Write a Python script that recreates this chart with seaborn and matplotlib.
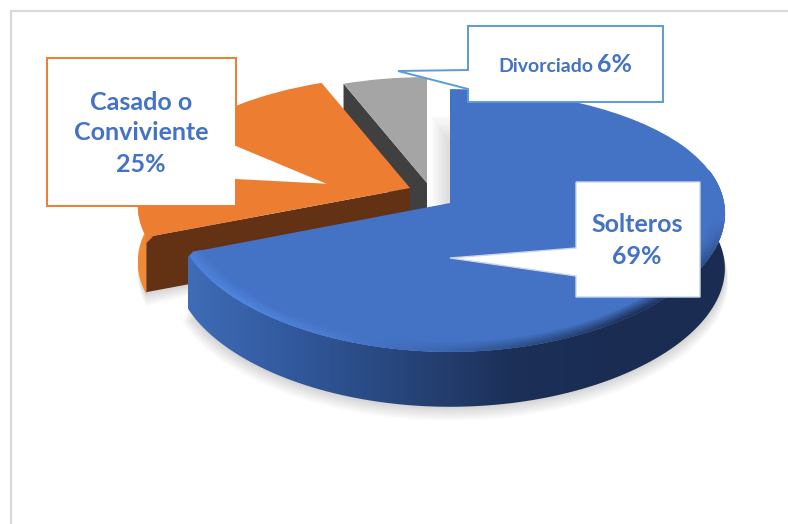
import numpy as np
import matplotlib
matplotlib.use('Agg')
import matplotlib.pyplot as plt
from matplotlib.collections import PolyCollection
from matplotlib.patches import Polygon
from matplotlib.transforms import Transform
import seaborn as sns

# data
categories = ['Solteros', 'Casado o\nConviviente', 'Divorciado']
shares = [69, 25, 6]
slice_colors = ['#4472c4', '#ed7d31', '#a5a5a5']
text_color = '#4472c4'

# where each slice was pulled to, in pixels, how large it looks, how much x narrows with distance
apexes = [(450, 203), (410, 188), (427, 183)]
radii = [1.0, 0.985, 0.93]
x_tilts = [0.08, 0.133, 0.133]
DEPTH = 55
RX, RY, P = 274, 129, 0.133


def project(u, v, apex, r=1.0, px=P):
    return apex[0] + RX * r * u / (1 + px * v), apex[1] - RY * r * v / (1 + P * v)


class Tilt(Transform):
    input_dims = 2
    output_dims = 2

    def __init__(self, apex, r, px):
        super().__init__()
        self.apex = apex
        self.r = r
        self.px = px

    def transform_non_affine(self, values):
        x, y = project(values[:, 0], values[:, 1], self.apex, self.r, self.px)
        return np.column_stack([x, y])


def rim(t1, t2, apex, r=1.0, n=120, px=P):
    t = np.radians(np.linspace(t1, t2, n))
    return project(r * np.cos(t), r * np.sin(t), apex, 1.0, px)


def wall(ax, x, y, colors, zorder, depth=DEPTH):
    # horizontal gradient clipped to the band below the rim
    grad = np.array(colors)[None, :, :]
    im = ax.imshow(grad, extent=(x.min(), x.max(), y.max() + depth, y.min()), aspect='auto', zorder=zorder,
                   interpolation='bilinear')
    pts = np.r_[np.c_[x, y], np.c_[x, y + depth][::-1]]
    im.set_clip_path(Polygon(pts, transform=ax.transData))


def shadow(ax, x, y, apex, zorder=0):
    cx = x.mean()
    for k in range(1, 15):
        ax.fill(np.r_[cx + (x - cx) * (1 + k * 0.0012), apex[0]], np.r_[y + DEPTH + k, apex[1] + DEPTH],
                color='#808080', alpha=0.025, lw=0, zorder=zorder)


def bevel(ax, t1, t2, apex, edge_colors, top, zorder, px):
    rs = np.linspace(0.945, 1.0, 7)
    top = np.array(matplotlib.colors.to_rgb(top))
    n = len(edge_colors)
    for j in range(len(rs) - 1):
        x0, y0 = rim(t1, t2, apex, rs[j], n + 1, px)
        x1, y1 = rim(t1, t2, apex, rs[j + 1], n + 1, px)
        f = (j + 1) / (len(rs) - 1)
        quads = [[(x0[i], y0[i]), (x0[i + 1], y0[i + 1]), (x1[i + 1], y1[i + 1]), (x1[i], y1[i])] for i in range(n)]
        cols = [tuple(top + (np.array(c) - top) * f) for c in edge_colors]
        ax.add_collection(PolyCollection(quads, facecolors=cols, edgecolors='face', linewidths=0.3, zorder=zorder))


def callout(ax, pts, edge, lw=1.4):
    ax.fill(*zip(*pts), facecolor='white', edgecolor=edge, lw=lw, zorder=10, joinstyle='miter')


sns.set_theme(style='white')
plt.rcParams['font.family'] = ['Lato', 'DejaVu Sans']

fig = plt.figure(figsize=(7.88, 5.24), dpi=100)
ax = fig.add_axes([0, 0, 1, 1])

wedges, _ = ax.pie(shares, colors=slice_colors, startangle=90, counterclock=False)
for w, apex, r, px, z in zip(wedges, apexes, radii, x_tilts, [6, 4, 2]):
    w.set_transform(Tilt(apex, r, px) + ax.transData)
    w.set_zorder(z)
    w.set_linewidth(0)

blue, orange, gray = wedges

# blue and orange rims, used for the walls and the floor shadow
bx, by = rim(blue.theta1, blue.theta2 - 75, apexes[0], px=x_tilts[0])
ox, oy = rim(orange.theta2 - 40, orange.theta2, apexes[1], radii[1])

shadow(ax, bx, by, apexes[0])
shadow(ax, ox, oy, apexes[1])

# soft grey in the gap between the grey and blue slices, nested so it darkens to the right and down
gap_shades = sns.blend_palette(['#fbfbfb', '#f0f0f0', '#e6e6e6', '#dedede'], 12)
for k, shade in enumerate(gap_shades):
    left = 432 + k * 1.4
    top = 116 + k * 2.2
    ax.fill([left, 450, 450, left], [top, top, 204, 204], color=shade, lw=0, zorder=1)
ax.plot([450, 450], [125, 203], color='#2a4a80', lw=0.7, zorder=5)

# grey slice: dark cut face
t = np.radians(gray.theta2)
gx, gy = project(np.cos(t), np.sin(t), apexes[2], radii[2])
ax.fill([apexes[2][0], gx, gx, apexes[2][0]],
        [apexes[2][1], gy, gy + DEPTH, apexes[2][1] + DEPTH], color='#404040', lw=0, zorder=1.5)

# orange slice: outer wall and brown cut face
wall(ax, ox, oy, sns.blend_palette(['#f08a35', '#f48c32'], 30), 3, depth=57)
tx, ty = ox[-1], oy[-1]
ax.fill([apexes[1][0], tx, tx, apexes[1][0]],
        [apexes[1][1], ty, ty + DEPTH, apexes[1][1] + DEPTH], color='#633215', lw=0, zorder=3.5)
# rounded corner of the brown face
ax.fill([tx - 1, tx + 7, tx - 1], [ty - 1, ty - 1, ty + 7], color=slice_colors[1], lw=0, zorder=3.6)

# blue slice: outer wall with the light running out to the right, bevel on top
wall(ax, bx, by, sns.blend_palette(['#3f6cb6', '#31589c', '#27457a', '#1c3058', '#1a2c52', '#1a2c52'], 300), 5)
bevel(ax, blue.theta1, blue.theta2 - 75, apexes[0],
      sns.blend_palette(['#4d82dc', '#4f86e0', '#4a7cd0', '#3c68b4', '#2a4a80', '#1c3058', '#2a4a80', '#4472c4', '#4472c4'], 220),
      slice_colors[0], 7, x_tilts[0])
# rounded corner of the blue tip
t = np.radians(blue.theta1)
cx, cy = project(np.cos(t), np.sin(t), apexes[0], 1.0, x_tilts[0])
ax.fill([cx - 1, cx + 6, cx - 1], [cy - 1, cy - 2, cy + 6], color='#633215', lw=0, zorder=8)

# callouts
callout(ax, [(47, 58), (236, 58), (236, 145), (332, 185), (236, 180), (236, 206), (47, 206)], slice_colors[1])
callout(ax, [(576, 182), (700, 182), (700, 297), (576, 297), (576, 276), (450, 258), (576, 248)], '#c9d6ee', 1.0)
callout(ax, [(468, 26), (663, 26), (663, 102), (468, 102), (468, 89), (398, 71), (468, 70)], '#5b9bd5')

txt = dict(color=text_color, fontweight='bold', ha='center', va='center', zorder=11)
ax.text(141, 102, 'Casado o', fontsize=18, **txt)
ax.text(141, 133, 'Conviviente', fontsize=18, **txt)
ax.text(141, 165, '25%', fontsize=18, **txt)
ax.text(637, 224, categories[0], fontsize=18, **txt)
ax.text(637, 256, '69%', fontsize=18, **txt)
ax.text(546, 66, categories[2], fontsize=14, **txt)
ax.text(615, 65, '6%', fontsize=18, **txt)

# page frame
ax.plot([11, 11, 788], [524, 11, 11], color='#d9d9d9', lw=1.6, zorder=0, solid_joinstyle='miter')

ax.set_aspect('auto')
ax.set_xlim(0, 788)
ax.set_ylim(524, 0)
ax.axis('off')

fig.savefig('out.png', dpi=100)
plt.close()
